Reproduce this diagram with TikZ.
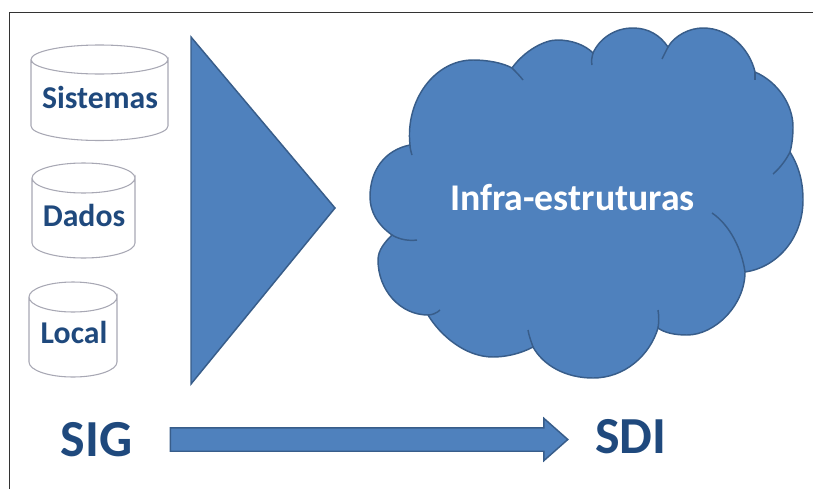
\documentclass[tikz,border=0pt]{standalone}
\usepackage{fontspec}
\setmainfont{Carlito}
\usetikzlibrary{shapes.arrows}
\definecolor{officeblue}{HTML}{4F81BD}
\definecolor{officeline}{HTML}{385D8A}
\definecolor{darkblue}{HTML}{1F497D}
\definecolor{cylline}{HTML}{A8A8B4}
\tikzset{
    cyl/.style={draw=cylline, line width=0.8pt, fill=white},
    cyltext/.style={text=darkblue, font=\bfseries\fontsize{23.8}{26}\selectfont},
    bigtext/.style={text=darkblue, font=\bfseries\fontsize{39}{44}\selectfont},
    bluefill/.style={fill=officeblue, draw=officeline, line width=1.1pt},
    lobe/.style={officeline, line width=1.1pt}
}
\begin{document}
\begin{tikzpicture}[x=0.75pt,y=-0.75pt]
    \useasboundingbox (0,0) rectangle (813,489);
    % frame
    \draw[color=black!80, line width=0.8pt] (9.5,489) -- (9.5,12.5) -- (813,12.5);

    % cylinders
    \draw[cyl] (31,59.5) -- (31,126) arc[start angle=180, end angle=0, x radius=68.5, y radius=14.5] -- (168,59.5)
        arc[start angle=0, end angle=360, x radius=68.5, y radius=14.5];
    \draw[cyl] (32,178) -- (32,243) arc[start angle=180, end angle=0, x radius=51.5, y radius=15] -- (135,178)
        arc[start angle=0, end angle=360, x radius=51.5, y radius=15];
    \draw[cyl] (29,297) -- (29,362) arc[start angle=180, end angle=0, x radius=44, y radius=15] -- (117,297)
        arc[start angle=0, end angle=360, x radius=44, y radius=15];
    \node[cyltext] (sistemas) at (100,97.5) {Sistemas};
    \node[cyltext] (dados) at (84,215) {Dados};
    \node[cyltext] (local) at (74,332.5) {Local};

    \draw[bluefill] (191,37) -- (335,208) -- (191,384) -- cycle;

    % cloud
    \draw[bluefill] (410,145) .. controls (405,100) and (435,60) .. (473,60) .. controls (488,60) and (503,63) .. (512,68)
        .. controls (525,50) and (545,40) .. (557,40) .. controls (572,40) and (585,45) .. (593,53)
        .. controls (600,38) and (615,28) .. (633,28) .. controls (648,28) and (660,35) .. (668,47)
        .. controls (675,35) and (690,28) .. (703,28) .. controls (730,28) and (750,50) .. (755,72)
        .. controls (778,82) and (793,105) .. (793,127) .. controls (793,135) and (792,145) .. (790,152)
        .. controls (798,165) and (803,180) .. (803,200) .. controls (803,240) and (775,268) .. (745,272)
        .. controls (745,305) and (715,335) .. (687,335) .. controls (675,335) and (665,333) .. (658,328)
        .. controls (650,355) and (625,378) .. (593,378) .. controls (565,378) and (543,365) .. (533,347)
        .. controls (520,354) and (505,357) .. (493,357) .. controls (465,357) and (440,335) .. (428,315)
        .. controls (400,315) and (378,290) .. (378,260) .. controls (378,250) and (385,242) .. (392,235)
        .. controls (378,225) and (370,212) .. (370,197) .. controls (370,170) and (385,150) .. (410,145) -- cycle;
    \draw[lobe] (512,68) .. controls (516,72) and (520,76) .. (523,80);
    \draw[lobe] (593,53) .. controls (592,57) and (591,61) .. (592,65);
    \draw[lobe] (668,47) .. controls (666,51) and (664,55) .. (662,59);
    \draw[lobe] (755,72) -- (755,80);
    \draw[lobe] (790,152) .. controls (786,160) and (780,168) .. (773,174);
    \draw[lobe] (712,213) .. controls (730,225) and (742,250) .. (745,272);
    \draw[lobe] (658,328) .. controls (659,322) and (659,316) .. (658,310);
    \draw[lobe] (533,347) .. controls (531,341) and (529,336) .. (528,330);
    \draw[lobe] (428,315) .. controls (432,315) and (437,313) .. (440,310);
    \draw[lobe] (392,235) .. controls (400,240) and (410,241) .. (417,240);
    \draw[lobe] (410,145) .. controls (410,148) and (411,152) .. (412,155);
    \node[text=white, font=\bfseries\fontsize{28.3}{32}\selectfont] (infra) at (572.5,197.5) {Infra-estruturas};

    \node[bigtext] (sig) at (96.5,440) {SIG};
    \node[bigtext] (sdi) at (631,437) {SDI};
    \node[bluefill, single arrow, minimum width=30.75pt, minimum height=298pt, inner xsep=0pt, inner ysep=8.25pt, single arrow head extend=7.1pt, single arrow head indent=0pt, single arrow tip angle=83] (arrow) at (362.5,439.5) {};
\end{tikzpicture}
\end{document}
